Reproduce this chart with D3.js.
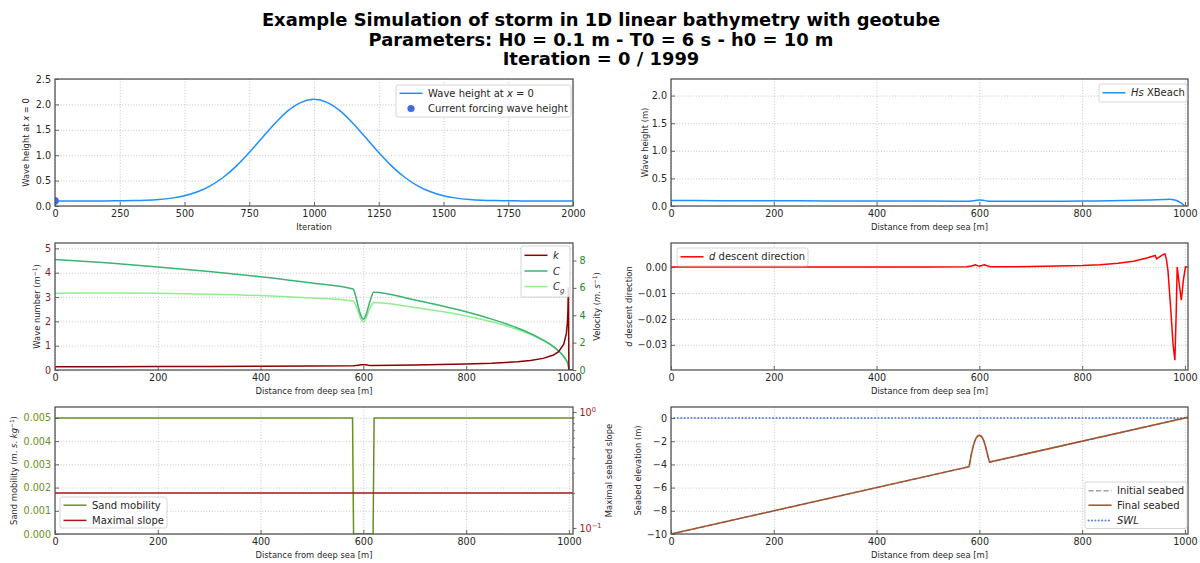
<!DOCTYPE html>
<html><head><meta charset="utf-8">
<script src="https://cdn.jsdelivr.net/npm/d3@7"></script>
<style>body{margin:0;background:#fff} svg{display:block;font-family:"DejaVu Sans",sans-serif}</style>
</head><body><svg id="c" width="1200" height="563"></svg>
<script>
// ---------------- DATA ----------------
const titleLines = ["Example Simulation of storm in 1D linear bathymetry with geotube",
  "Parameters: H0 = 0.1 m - T0 = 6 s - h0 = 10 m", "Iteration = 0 / 1999"];

const iterX = [0,50,100,150,200,250,300,350,400,450,500,550,600,650,700,750,800,850,900,950,1000,
  1050,1100,1150,1200,1250,1300,1350,1400,1450,1500,1550,1600,1650,1700,1750,1800,1850,1900,1950,2000];
const iterH = [0.100,0.100,0.100,0.100,0.1005,0.102,0.106,0.113,0.128,0.155,0.202,0.280,0.398,0.566,0.785,1.051,1.343,1.630,1.876,2.041,2.100,
  2.041,1.876,1.630,1.343,1.051,0.785,0.566,0.398,0.280,0.202,0.155,0.128,0.113,0.106,0.102,0.1005,0.100,0.100,0.100,0.100];
const forcingIter = [0];
const forcingH = [0.1];

const hsX =   [0,100,200,300,400,500,575,585,592,600,607,615,625,650,700,800,880,930,960,970,978,985,990,995,1000,1006];
const hsVal = [0.100,0.097,0.094,0.092,0.090,0.089,0.088,0.092,0.100,0.108,0.103,0.092,0.085,0.084,0.085,0.090,0.098,0.108,0.118,0.120,0.113,0.095,0.070,0.040,0.000,0.000];

const velX = [0,100,200,300,400,500,580,585,590,595,600,605,610,615,620,700,750,800,850,900,925,950,970,980,990,995,997,998,999,1000,1008];
const kVal = [0.130,0.134,0.139,0.1455,0.154,0.165,0.177,0.185,0.200,0.214,0.220,0.214,0.200,0.190,0.184,0.2045,0.222,0.246,0.281,0.341,0.392,0.478,0.614,0.751,1.059,1.495,1.93,2.364,3.40,0,0];
const cVal = [8.07,7.83,7.53,7.20,6.81,6.35,5.92,5.41,4.64,4.01,3.72,4.01,4.64,5.26,5.68,5.12,4.72,4.26,3.72,3.07,2.67,2.19,1.71,1.39,0.99,0.70,0.57,0.44,0.31,0,0];
const cgVal = [5.61,5.62,5.60,5.54,5.44,5.26,5.05,4.76,4.25,3.75,3.52,3.75,4.25,4.66,4.93,4.57,4.29,3.95,3.52,2.96,2.60,2.15,1.69,1.38,0.985,0.70,0.57,0.44,0.31,0,0];

const dX =   [0,200,400,500,575,585,592,600,610,615,622,700,800,835,870,900,926,942,945,955,961,964,967,972,977,980.5,983,985,988,993,997,1001,1006];
const dVal = [0,0,0,0.00005,0.0001,0.0004,0.0009,0.0003,0.0009,0.0005,0.0001,0.0002,0.0006,0.0009,0.0015,0.0023,0.0035,0.0045,0.0032,0.0045,0.0051,0.003,-0.0013,-0.015,-0.030,-0.0359,-0.018,0.0,-0.005,-0.0128,-0.005,0.0,0.0];

const mobX =   [0,579,581,619,621,1008];
const mobVal = [0.005,0.005,0,0,0.005,0.005];
const slopeX = [0,1008];
const slopeVal = [0.2,0.2];

const bedX =     [0,580,582,585,588,591,594,597,600,603,606,609,612,615,618,620,1000,1006];
const bedInit =  [-10,-4.2,-3.7,-3.0,-2.45,-2.0,-1.7,-1.55,-1.5,-1.55,-1.7,-2.0,-2.45,-3.0,-3.5,-3.8,0,0.06];
const bedFinal = [-10,-4.2,-3.7,-3.0,-2.45,-2.0,-1.7,-1.55,-1.5,-1.55,-1.7,-2.0,-2.45,-3.0,-3.5,-3.8,0,0.06];
const swlX = [0,1006];
const swlVal = [0,0];

const ticksIter = [0,250,500,750,1000,1250,1500,1750,2000];
const ticksDist = [0,200,400,600,800,1000];
const ticksH1 = [0,0.5,1,1.5,2,2.5];
const ticksH2 = [0,0.5,1,1.5,2];
const ticksK = [0,1,2,3,4,5];
const ticksVel = [0,2,4,6,8];
const ticksD = [0,-0.01,-0.02,-0.03];
const ticksMob = [0,0.001,0.002,0.003,0.004,0.005];
const ticksSlopeMajor = [0.1,1];
const ticksSlopeMinor = [0.2,0.3,0.4,0.5,0.6,0.7,0.8,0.9];
const ticksBed = [-10,-8,-6,-4,-2,0];

// ---------------- STYLE ----------------
const svg = d3.select('#c');
const TXT = '#262626', SP = '#555555', GRID = '#b8b8b8';
const FS_T = 9.6, FS_L = 8.4, FS_LEG = 10;
const C = {blue:'#1e90ff', dot:'#4169e1', k:'#8b0000', c:'#3cb371', cg:'#90ee90', d:'#ff0000',
  mob:'#6b8e23', slope:'#aa1515', bed:'#a0522d', init:'#a0a0a0', swl:'#5a80ee', green:'#1a8a1a', kTick:'#8b1a1a'};

function rich(t, parts, fs){
  let shift = 0;
  parts.forEach(p => {
    const [s, st] = Array.isArray(p) ? p : [p, ''];
    const ts = t.append('tspan').text(s);
    let target = 0;
    if (st.includes('sub')) target = fs*0.3;
    if (st.includes('sup')) target = -fs*0.4;
    if (target !== shift) { ts.attr('dy', target - shift); shift = target; }
    if (st.includes('sub') || st.includes('sup')) ts.attr('font-size', fs*0.7);
    if (st.includes('i')) ts.attr('font-style', 'italic');
  });
}

// title
titleLines.forEach((s,i) => svg.append('text').attr('x',601).attr('y',26.4+i*19.5)
  .attr('text-anchor','middle').attr('font-size',17.9).attr('font-weight','bold').attr('fill','#000').text(s));

let clipN = 0;
function panel(L, xs, ys, o){
  const g = svg.append('g');
  const id = 'clip' + (clipN++);
  svg.append('clipPath').attr('id', id).append('rect')
    .attr('x', L.x0).attr('y', L.y0).attr('width', L.x1-L.x0).attr('height', L.y1-L.y0);
  const h = L.y1-L.y0, w = L.x1-L.x0;
  const gx = g.append('g').attr('transform',`translate(0,${L.y1})`)
    .call(d3.axisBottom(xs).tickValues(o.xt).tickSize(-h).tickFormat(''));
  const gy = g.append('g').attr('transform',`translate(${L.x0},0)`)
    .call(d3.axisLeft(ys).tickValues(o.yt).tickSize(-w).tickFormat(''));
  [gx,gy].forEach(a => { a.select('.domain').remove();
    a.selectAll('line').attr('stroke',GRID).attr('stroke-width',0.8).attr('stroke-dasharray','1,1.8'); });
  const data = svg.append('g').attr('clip-path',`url(#${id})`);
  return {g, data, L, xs, ys, o, id};
}
function finish(P){
  const {L, xs, ys, o} = P;
  const g = svg.append('g');
  g.append('rect').attr('x',L.x0).attr('y',L.y0).attr('width',L.x1-L.x0).attr('height',L.y1-L.y0)
    .attr('fill','none').attr('stroke',SP).attr('stroke-width',1.3);
  const ax = g.append('g').attr('transform',`translate(0,${L.y1})`)
    .call(d3.axisBottom(xs).tickValues(o.xt).tickSize(-4).tickPadding(4.5).tickFormat(o.xf || d3.format('d')));
  const ay = g.append('g').attr('transform',`translate(${L.x0},0)`)
    .call(d3.axisLeft(ys).tickValues(o.yt).tickSize(-4).tickPadding(4).tickFormat(o.yf));
  [ax,ay].forEach(a => { a.select('.domain').remove();
    a.selectAll('line').attr('stroke',SP).attr('stroke-width',0.9);
    a.selectAll('text').attr('font-size',FS_T).attr('font-family','DejaVu Sans').attr('fill',TXT); });
  if (o.ytc) ay.selectAll('text').attr('fill', o.ytc);
  const xl = g.append('text').attr('x',(L.x0+L.x1)/2).attr('y',L.y1+21).attr('dy','0.35em')
    .attr('text-anchor','middle').attr('font-size',FS_L).attr('fill',TXT);
  rich(xl, o.xl, FS_L);
  const yl = g.append('text').attr('transform',`translate(${o.ylx},${(L.y0+L.y1)/2}) rotate(-90)`)
    .attr('dy','0.35em').attr('text-anchor','middle').attr('font-size',FS_L).attr('fill',TXT);
  rich(yl, o.yl, FS_L);
  return g;
}
function rightAxis(P, scale, vals, fmt, color, label, lx, minor){
  const {L} = P;
  const g = svg.append('g');
  const a = g.append('g').attr('transform',`translate(${L.x1},0)`)
    .call(d3.axisRight(scale).tickValues(vals).tickSize(3.5).tickPadding(3).tickFormat(fmt));
  a.select('.domain').remove();
  a.selectAll('line').attr('stroke',SP).attr('stroke-width',0.9);
  a.selectAll('text').attr('font-size',FS_T).attr('font-family','DejaVu Sans').attr('fill',color);
  if (minor){
    const m = g.append('g').attr('transform',`translate(${L.x1},0)`)
      .call(d3.axisRight(scale).tickValues(minor).tickSize(2).tickFormat(''));
    m.select('.domain').remove();
    m.selectAll('line').attr('stroke',SP).attr('stroke-width',0.7);
  }
  const yl = g.append('text').attr('transform',`translate(${lx},${(L.y0+L.y1)/2}) rotate(-90)`)
    .attr('dy','0.35em').attr('text-anchor','middle').attr('font-size',FS_L).attr('fill',TXT);
  rich(yl, label, FS_L);
  return a;
}
function legend(x, y, w, hgt, entries){
  const g = svg.append('g');
  g.append('rect').attr('x',x).attr('y',y).attr('width',w).attr('height',hgt).attr('rx',2)
    .attr('fill','#fff').attr('fill-opacity',0.85).attr('stroke','#cccccc').attr('stroke-width',0.8);
  entries.forEach(e => {
    if (e.type === 'dot') {
      g.append('circle').attr('cx', x+15).attr('cy', e.y).attr('r',3.6).attr('fill',e.color);
    } else {
      g.append('line').attr('x1',x+3.5).attr('x2',x+26.5).attr('y1',e.y).attr('y2',e.y)
        .attr('stroke',e.color).attr('stroke-width',e.sw||1.5).attr('stroke-dasharray',e.dash||null)
        .attr('stroke-linecap', e.cap||null);
    }
    const t = g.append('text').attr('x',x+32).attr('y',e.y).attr('dy','0.35em')
      .attr('font-size',FS_LEG).attr('fill',TXT);
    rich(t, e.label, FS_LEG);
  });
}
const line = (xs, ys, curve) => d3.line().x(d=>xs(d[0])).y(d=>ys(d[1])).curve(curve || d3.curveLinear);
const zip = (a,b) => a.map((v,i)=>[v,b[i]]);

// ---------------- PANEL 1 ----------------
{
  const L = {x0:55,x1:573,y0:79,y1:206};
  const xs = d3.scaleLinear().domain([0,2000]).range([L.x0,L.x1]);
  const ys = d3.scaleLinear().domain([0,2.5]).range([L.y1,L.y0]);
  const P = panel(L, xs, ys, {xt:ticksIter, yt:ticksH1});
  P.data.append('path').attr('d', line(xs,ys,d3.curveMonotoneX)(zip(iterX,iterH)))
    .attr('fill','none').attr('stroke',C.blue).attr('stroke-width',1.5);
  P.data.selectAll('circle').data(zip(forcingIter,forcingH)).join('circle')
    .attr('cx',d=>xs(d[0])).attr('cy',d=>ys(d[1])).attr('r',3.8).attr('fill',C.dot);
  finish({L,xs,ys,o:{xt:ticksIter, yt:ticksH1, yf:d3.format('.1f'), xl:['Iteration'],
    yl:['Wave height at ',['x','i'],' = 0'], ylx:26}});
  legend(396, 85, 175, 32, [
    {y:93.3, color:C.blue, label:['Wave height at ',['x','i'],' = 0']},
    {y:108.5, type:'dot', color:C.dot, label:['Current forcing wave height']}]);
}
// ---------------- PANEL 2 ----------------
{
  const L = {x0:671,x1:1188,y0:79,y1:206};
  const xs = d3.scaleLinear().domain([0,1006]).range([L.x0,L.x1]);
  const ys = d3.scaleLinear().domain([0,2.30]).range([L.y1,L.y0]);
  const P = panel(L, xs, ys, {xt:ticksDist, yt:ticksH2});
  P.data.append('path').attr('d', line(xs,ys,d3.curveMonotoneX)(zip(hsX,hsVal)))
    .attr('fill','none').attr('stroke',C.blue).attr('stroke-width',1.5);
  finish({L,xs,ys,o:{xt:ticksDist, yt:ticksH2, yf:d3.format('.1f'), xl:['Distance from deep sea [m]'],
    yl:['Wave height (m)'], ylx:645}});
  legend(1099, 84, 88, 18, [{y:92.8, color:C.blue, label:[['Hs','i'],' XBeach']}]);
}
// ---------------- PANEL 3 ----------------
{
  const L = {x0:55,x1:573,y0:243,y1:370};
  const xs = d3.scaleLinear().domain([0,1008]).range([L.x0,L.x1]);
  const ys = d3.scaleLinear().domain([0,5.22]).range([L.y1,L.y0]);
  const y2 = d3.scaleLinear().domain([0,9.28]).range([L.y1,L.y0]);
  const P = panel(L, xs, ys, {xt:ticksDist, yt:ticksK});
  P.data.append('path').attr('d', line(xs,y2,d3.curveMonotoneX)(zip(velX,cgVal)))
    .attr('fill','none').attr('stroke',C.cg).attr('stroke-width',1.5);
  P.data.append('path').attr('d', line(xs,y2,d3.curveMonotoneX)(zip(velX,cVal)))
    .attr('fill','none').attr('stroke',C.c).attr('stroke-width',1.5);
  P.data.append('path').attr('d', line(xs,ys)(zip(velX,kVal)))
    .attr('fill','none').attr('stroke',C.k).attr('stroke-width',1.5);
  finish({L,xs,ys,o:{xt:ticksDist, yt:ticksK, yf:d3.format('d'), ytc:C.kTick, xl:['Distance from deep sea [m]'],
    yl:['Wave number (',['m','i'],['−1','sup'],')'], ylx:37}});
  rightAxis(P, y2, ticksVel, d3.format('d'), C.green, ['Velocity (',['m','i'],'. ',['s','i'],['−1','sup'],')'], 597);
  legend(521, 246, 49, 51, [
    {y:255.3, color:C.k, label:[['k','i']]},
    {y:271, color:C.c, label:[['C','i']]},
    {y:286.5, color:C.cg, label:[['C','i'],['g','i sub']]}]);
}
// ---------------- PANEL 4 ----------------
{
  const L = {x0:671,x1:1188,y0:243,y1:370};
  const xs = d3.scaleLinear().domain([0,1006]).range([L.x0,L.x1]);
  const ys = d3.scaleLinear().domain([-0.0397,0.0093]).range([L.y1,L.y0]);
  const P = panel(L, xs, ys, {xt:ticksDist, yt:ticksD});
  P.data.append('path').attr('d', line(xs,ys)(zip(dX,dVal)))
    .attr('fill','none').attr('stroke',C.d).attr('stroke-width',1.5);
  finish({L,xs,ys,o:{xt:ticksDist, yt:ticksD, yf:d3.format('.2f'), xl:['Distance from deep sea [m]'],
    yl:[['d','i'],' descent direction'], ylx:629}});
  legend(677, 248, 131, 18, [{y:256.8, color:C.d, label:[['d','i'],' descent direction']}]);
}
// ---------------- PANEL 5 ----------------
{
  const L = {x0:55,x1:573,y0:407,y1:534};
  const xs = d3.scaleLinear().domain([0,1008]).range([L.x0,L.x1]);
  const ys = d3.scaleLinear().domain([0,0.00547]).range([L.y1,L.y0]);
  const y2 = d3.scaleLog().domain([0.0887,1.104]).range([L.y1,L.y0]);
  const P = panel(L, xs, ys, {xt:ticksDist, yt:ticksMob});
  P.data.append('path').attr('d', line(xs,ys)(zip(mobX,mobVal)))
    .attr('fill','none').attr('stroke',C.mob).attr('stroke-width',1.5);
  P.data.append('path').attr('d', line(xs,y2)(zip(slopeX,slopeVal)))
    .attr('fill','none').attr('stroke',C.slope).attr('stroke-width',1.5);
  finish({L,xs,ys,o:{xt:ticksDist, yt:ticksMob, yf:d3.format('.3f'), ytc:C.mob, xl:['Distance from deep sea [m]'],
    yl:['Sand mobility (',['m','i'],'. ',['s','i'],'. ',['kg','i'],['−1','sup'],')'], ylx:14}});
  const a = rightAxis(P, y2, ticksSlopeMajor, ()=>'', C.slope, ['Maximal seabed slope'], 609, ticksSlopeMinor);
  a.selectAll('.tick text').each(function(d){
    rich(d3.select(this), ['10', [d===1?'0':'−1','sup']], FS_T);
  });
  legend(60, 497, 107, 31, [
    {y:505.2, color:C.mob, label:['Sand mobility']},
    {y:520.4, color:C.slope, label:['Maximal slope']}]);
}
// ---------------- PANEL 6 ----------------
{
  const L = {x0:671,x1:1188,y0:407,y1:534};
  const xs = d3.scaleLinear().domain([0,1006]).range([L.x0,L.x1]);
  const ys = d3.scaleLinear().domain([-10,0.95]).range([L.y1,L.y0]);
  const P = panel(L, xs, ys, {xt:ticksDist, yt:ticksBed});
  P.data.append('path').attr('d', line(xs,ys)(zip(swlX,swlVal)))
    .attr('fill','none').attr('stroke',C.swl).attr('stroke-width',2).attr('stroke-dasharray','0.1,3.3').attr('stroke-linecap','round');
  P.data.append('path').attr('d', line(xs,ys)(zip(bedX,bedInit)))
    .attr('fill','none').attr('stroke',C.init).attr('stroke-width',1.5).attr('stroke-dasharray','5,2.5');
  P.data.append('path').attr('d', line(xs,ys)(zip(bedX,bedFinal)))
    .attr('fill','none').attr('stroke',C.bed).attr('stroke-width',1.5);
  finish({L,xs,ys,o:{xt:ticksDist, yt:ticksBed, yf:d3.format('d'), xl:['Distance from deep sea [m]'],
    yl:['Seabed elevation (m)'], ylx:638}});
  legend(1085, 482, 102, 46.5, [
    {y:490.8, color:C.init, dash:'5,2.5', label:['Initial seabed']},
    {y:505.2, color:C.bed, label:['Final seabed']},
    {y:520.4, color:C.swl, sw:2, dash:'0.1,3.3', cap:'round', label:[['SWL','i']]}]);
}
</script></body></html>
